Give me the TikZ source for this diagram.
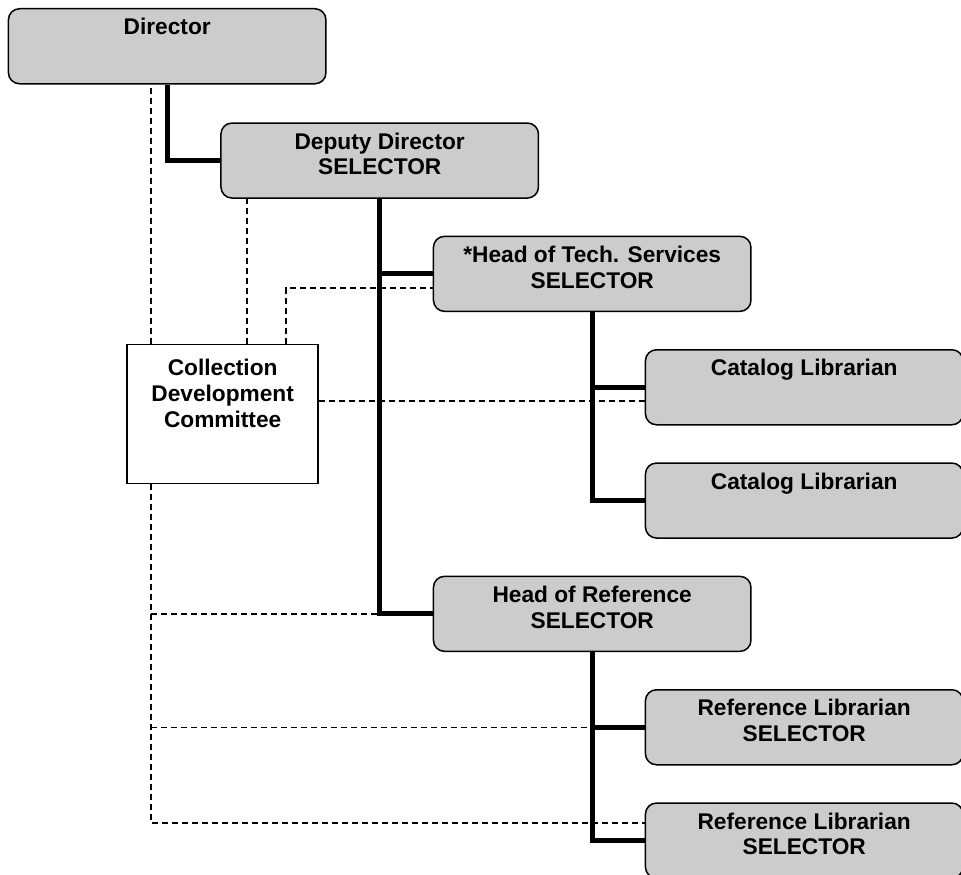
\documentclass[tikz,border=0pt]{standalone}
\usepackage{fontspec}
\setmainfont{Liberation Sans}
\usetikzlibrary{backgrounds}
\definecolor{boxgray}{RGB}{204,204,204}
\begin{document}
\begin{tikzpicture}[x=1pt, y=-1pt,
  post/.style={draw=black, line width=1.5pt, fill=boxgray, rounded corners=11pt,
    minimum width=317.5pt, minimum height=75pt, anchor=north west, inner sep=0pt},
  committee/.style={draw=black, line width=1.5pt, fill=white,
    minimum width=191pt, minimum height=139pt, anchor=north west, inner sep=0pt},
  lbl/.style={font=\fontsize{22.7}{25.7}\selectfont\bfseries, align=center,
    inner sep=0pt, anchor=north},
  solidlink/.style={line width=5pt, line join=miter},
  dashlink/.style={line width=1.5pt, dash pattern=on 6pt off 4pt}
]
\useasboundingbox (0,0) rectangle (961,875);

% positions
\node[post] (dir) at (7.7,8) {};
\node[post] (dep) at (220.2,122.3) {};
\node[post] (hts) at (432.7,235.6) {};
\node[post] (cl1) at (644.7,349) {};
\node[post] (cl2) at (644.7,462.3) {};
\node[post] (hor) at (432.7,575.6) {};
\node[post] (rl1) at (644.7,689) {};
\node[post] (rl2) at (644.7,802.3) {};
\node[committee] (cdc) at (126.4,343.7) {};

% labels
\node[lbl] at ([yshift=-10.2pt]dir.north) {Director};
\node[lbl] at ([yshift=-10.2pt]dep.north) {Deputy Director\\SELECTOR};
\node[lbl] at ([yshift=-10.2pt]hts.north) {*Head of Tech. Services\\SELECTOR};
\node[lbl] at ([yshift=-10.2pt]cl1.north) {Catalog Librarian};
\node[lbl] at ([yshift=-10.2pt]cl2.north) {Catalog Librarian};
\node[lbl] at ([yshift=-10.2pt]hor.north) {Head of Reference\\SELECTOR};
\node[lbl] at ([yshift=-10.2pt]rl1.north) {Reference Librarian\\SELECTOR};
\node[lbl] at ([yshift=-10.2pt]rl2.north) {Reference Librarian\\SELECTOR};
\node[lbl] at ([yshift=-15.5pt]cdc.north) {Collection\\Development\\Committee};

% attachment points on the committee box
\coordinate (cA) at ([xshift=24.6pt]cdc.north west);
\coordinate (cB) at ([xshift=120.6pt]cdc.north west);
\coordinate (cC) at ([xshift=159.6pt]cdc.north west);
\coordinate (cD) at ([xshift=24.6pt]cdc.south west);
\coordinate (cE) at ([yshift=-57.5pt]cdc.north east);

\begin{pgfonlayer}{background}
  % reporting (solid) links
  \draw[solidlink] (dir.south) |- (dep.west);
  \draw[solidlink] (dep.south) |- (hts.west);
  \draw[solidlink] (dep.south) |- (hor.west);
  \draw[solidlink] (hts.south) |- (cl1.west);
  \draw[solidlink] (hts.south) |- (cl2.west);
  \draw[solidlink] (hor.south) |- (rl1.west);
  \draw[solidlink] (hor.south) |- (rl2.west);
  % advisory (dashed) links
  \draw[dashlink] (cA) -- (cA |- dir.south);
  \draw[dashlink] (cB) -- (cB |- dep.south);
  \draw[dashlink] (cC) |- ([yshift=-14.3pt]hts.west);
  \draw[dashlink] (cE) -- (cE -| cl1.west);
  \draw[dashlink] (cD) |- ([yshift=17.5pt]rl2.west);
  \draw[dashlink] (cD |- hor.west) -- (hor.west);
  \draw[dashlink] (cD |- rl1.west) -- (rl1.west);
\end{pgfonlayer}
\end{tikzpicture}
\end{document}
